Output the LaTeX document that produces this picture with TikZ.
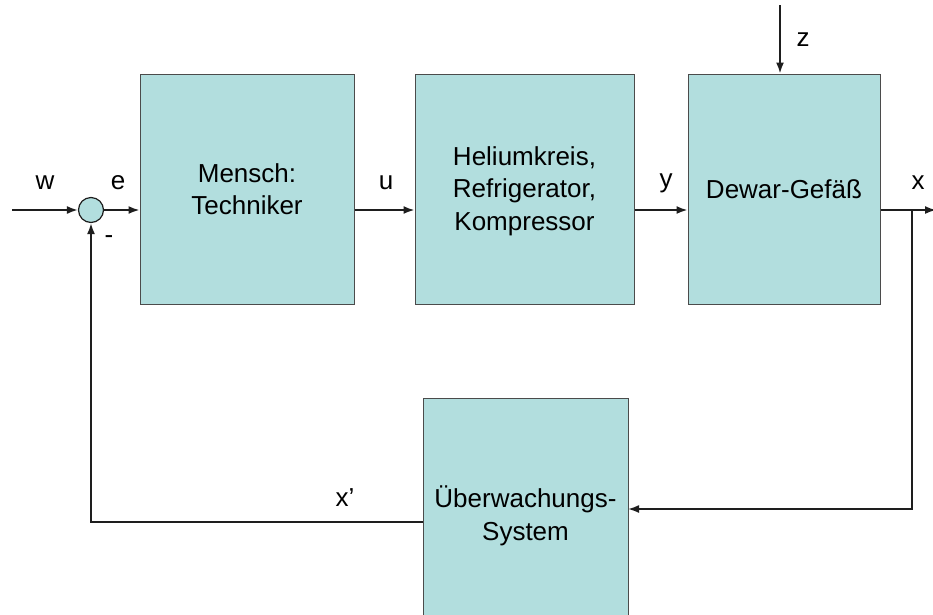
\documentclass[tikz,border=0pt]{standalone}
\usepackage{fontspec}
\setmainfont{Liberation Sans}
\usetikzlibrary{arrows.meta}
\definecolor{boxfill}{RGB}{178,222,222}
\definecolor{lineclr}{RGB}{30,30,30}
\tikzset{
  blk/.style={draw=lineclr!80, line width=1pt, fill=boxfill, align=center, inner sep=0pt,
    font=\fontsize{26}{32.5}\selectfont},
  lbl/.style={font=\fontsize{26}{32}\selectfont, inner sep=0pt},
  arr/.style={draw=lineclr, line width=1.8pt, -{Latex[length=11pt,width=8pt]}},
}
\begin{document}
\begin{tikzpicture}[x=1pt,y=-1pt]
\clip (0,0) rectangle (933,614);
\fill[white] (0,0) rectangle (933,614);
\node[blk, minimum width=214pt, minimum height=230pt] (b1) at (247,189) {Mensch:\\Techniker};
\node[blk, minimum width=219pt, minimum height=230pt] (b2) at (524.5,189) {};
\node[align=center, inner sep=0pt, font=\fontsize{26}{32.5}\selectfont] (t2) at (524.5,191) {Heliumkreis,\\Refrigerator,\\Kompressor};
\node[blk, minimum width=192pt, minimum height=230pt] (b3) at (784,189) {Dewar-Gefäß};
\node[blk, minimum width=205pt, minimum height=236pt] (b4) at (525.5,516) {Überwachungs-\\System};
\node[draw=lineclr, line width=1.2pt, fill=boxfill, circle, minimum size=25pt, inner sep=0pt] (sum) at (91,210) {};
\coordinate (win) at (12,210);
\coordinate (xout) at (936,210);
\coordinate (br) at (912,210);
\coordinate (zin) at (780,5);
\coordinate (in4) at (628,509);
\coordinate (out4) at (423,522);
\draw[arr] (win) -- (sum.west);
\draw[arr] (sum.east) -- (b1.west |- sum.east);
\draw[arr] (b1.east |- sum.east) -- (b2.west |- sum.east);
\draw[arr] (b2.east |- sum.east) -- (b3.west |- sum.east);
\draw[arr] (b3.east |- sum.east) -- (xout);
\draw[arr] (zin) -- (b3.north -| zin);
\draw[arr] (br) |- (in4);
\draw[arr] (out4) -| (sum.south);
\node[lbl] (lw) at (45,183) {w};
\node[lbl] (le) at (118,183) {e};
\node[lbl] (lu) at (386,183) {u};
\node[lbl] (ly) at (666,183) {y};
\node[lbl] (lx) at (918,183) {x};
\node[lbl] (lz) at (803,40) {z};
\node[lbl] (lxp) at (345,498) {x’};
\node[lbl] (lm) at (109,240) {-};
\end{tikzpicture}
\end{document}
